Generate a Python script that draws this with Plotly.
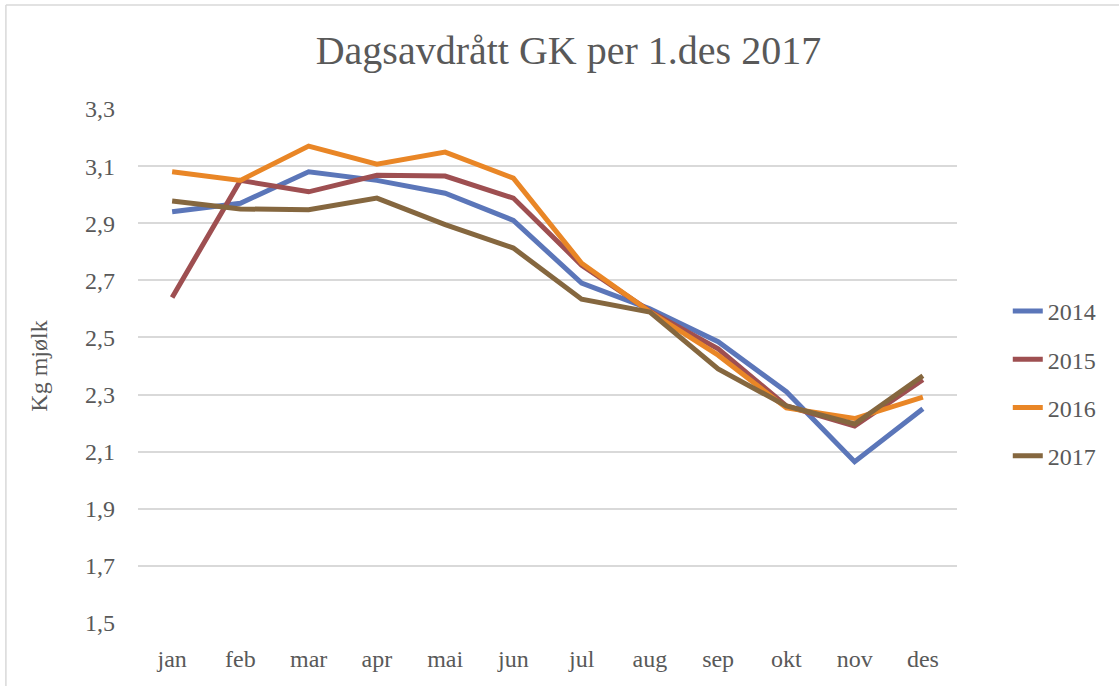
import plotly.graph_objects as go

months = ["jan", "feb", "mar", "apr", "mai", "jun", "jul", "aug", "sep", "okt", "nov", "des"]
y2014 = [2.94, 2.97, 3.08, 3.05, 3.005, 2.91, 2.69, 2.60, 2.485, 2.31, 2.065, 2.25]
y2015 = [2.64, 3.05, 3.01, 3.068, 3.065, 2.988, 2.753, 2.592, 2.46, 2.26, 2.19, 2.352]
y2016 = [3.08, 3.05, 3.17, 3.107, 3.149, 3.058, 2.76, 2.59, 2.438, 2.253, 2.216, 2.291]
y2017 = [2.978, 2.95, 2.947, 2.988, 2.895, 2.813, 2.634, 2.589, 2.39, 2.26, 2.197, 2.366]
series_names = ["2014", "2015", "2016", "2017"]
colors = ["#5b76b9", "#9e4f51", "#e98626", "#85673f"]

FONT = "Liberation Serif"
fig = go.Figure()
for name, vals, col in zip(series_names, [y2014, y2015, y2016, y2017], colors):
    fig.add_trace(go.Scatter(x=months, y=vals, name=name, mode="lines",
                             legendgroup=name,
                             line=dict(color=col, width=5)))

fig.update_layout(
    width=1119, height=686,
    margin=dict(l=138, r=162, t=109, b=63),
    paper_bgcolor="white", plot_bgcolor="white",
    separators=", ",
    font=dict(family=FONT, color="#595959", size=24),
    title=dict(text="Dagsavdrått GK per 1.des 2017", x=0.508, xref="container",
               y=0.927, yref="container", yanchor="middle", xanchor="center",
               font=dict(family=FONT, size=40, color="#595959")),
    xaxis=dict(type="category", range=[-0.5, 11.5], showgrid=False, showline=False,
               zeroline=False, ticks="", ticklabelstandoff=19,
               tickfont=dict(size=24, color="#595959")),
    yaxis=dict(range=[1.5, 3.3], dtick=0.2, tick0=1.5, tickformat=".1f",
               showgrid=True, gridcolor="#d9d9d9", gridwidth=1.5,
               showline=False, zeroline=False, ticks="", ticklabelstandoff=22,
               tickfont=dict(size=24, color="#595959"),
               title=dict(text="Kg mjølk", standoff=30, font=dict(size=24, color="#595959"))),
    showlegend=True,
    legend=dict(x=1.062, xanchor="left", y=0.466, yanchor="middle",
                font=dict(size=24, color="#595959"), tracegroupgap=14,
                bgcolor="rgba(0,0,0,0)"),
    shapes=[
        dict(type="line", xref="paper", yref="paper", x0=-0.1613, x1=1.3, y0=1.2023, y1=1.2023,
             line=dict(color="#d9d9d9", width=1.5)),
        dict(type="line", xref="paper", yref="paper", x0=-0.1613, x1=-0.1613, y0=-0.2, y1=1.2023,
             line=dict(color="#d9d9d9", width=1.5)),
    ],
)

fig.write_html("out.html", config={"displayModeBar": False},
               post_script="document.body.style.margin='0';")
